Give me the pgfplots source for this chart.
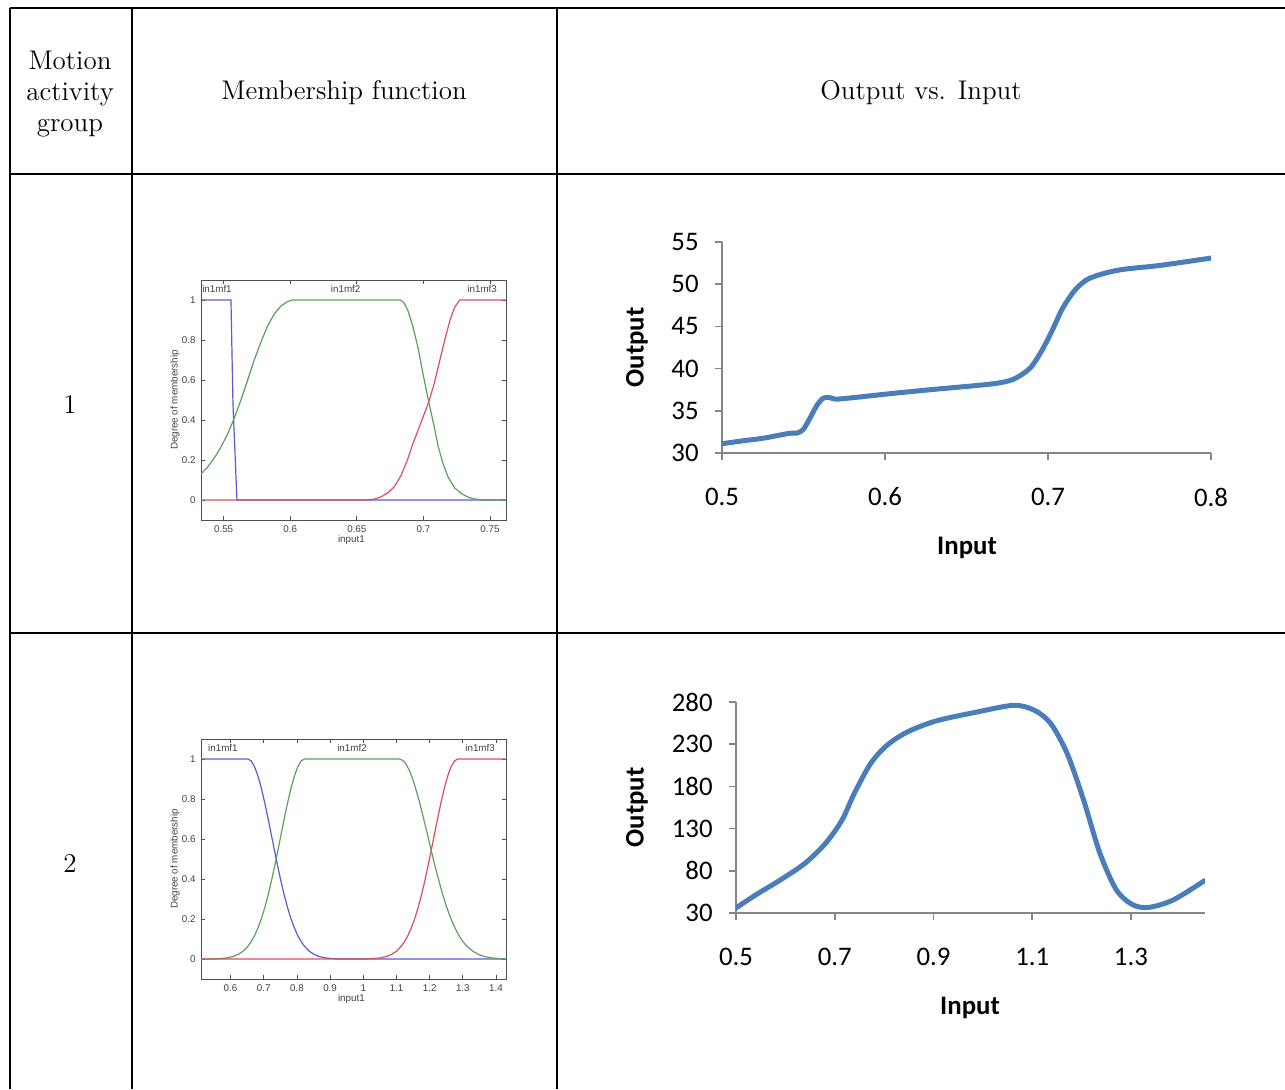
\documentclass[border=0pt]{standalone}
\usepackage{fontspec}
\usepackage{pgfplots}
\pgfplotsset{compat=1.18}
\newfontfamily\calibri{Carlito}
\newfontfamily\arialf{Liberation Sans}

\definecolor{xlblue}{HTML}{4A7EBB}
\definecolor{xlaxis}{HTML}{868686}
\definecolor{mlblue}{HTML}{5A5AD6}
\definecolor{mlgreen}{HTML}{5E9E5E}
\definecolor{mlred}{HTML}{D6505E}
\definecolor{mlframe}{HTML}{505050}

\newcommand{\cellfont}{\fontsize{13.5}{15.5}\selectfont}
\newcommand{\xlfont}{\calibri\fontsize{13.4}{16}\selectfont}
\newcommand{\xlbold}{\calibri\bfseries\fontsize{13.4}{16}\selectfont}
\newcommand{\mlfont}{\arialf\fontsize{4.9}{6}\selectfont}

\pgfplotsset{
  excel/.style={
    scale only axis,
    axis x line=bottom, axis y line=left,
    axis line style={xlaxis, line width=0.8pt, -},
    tick style={xlaxis, line width=0.8pt},
    tick align=outside, major tick length=3.5pt,
    scaled ticks=false,
    tick label style={font=\xlfont, /pgf/number format/assume math mode=true},
    xticklabel style={anchor=center, inner sep=0pt, yshift=-18.5pt},
    yticklabel style={anchor=east, inner sep=0pt, xshift=-8pt},
    xlabel={Input}, ylabel={Output},
  },
  matlab/.style={
    scale only axis,
    width=152.5pt, height=120pt,
    ymin=-0.1, ymax=1.1,
    ytick={0,0.2,0.4,0.6,0.8,1},
    axis line style={mlframe, line width=0.5pt},
    tick style={mlframe, line width=0.4pt},
    tick align=inside, major tick length=2pt,
    scaled ticks=false,
    tick label style={font=\mlfont, text=black!75, /pgf/number format/assume math mode=true},
    xticklabel style={anchor=center, inner sep=0pt, yshift=-4.5pt},
    yticklabel style={anchor=east, inner sep=0pt, xshift=-2.5pt},
    xlabel={input1}, ylabel={Degree of membership},
    every axis x label/.style={at={(axis description cs:0.493,-0.083)}, anchor=center, font=\mlfont, text=black!75},
    every axis y label/.style={at={(axis description cs:-0.085,0.5)}, rotate=90, anchor=center, font=\mlfont, text=black!75},
  },
  mf/.style={line width=0.6pt},
}

\begin{document}
\begin{tikzpicture}
\useasboundingbox (0,0) rectangle (642.5pt,-544.5pt);

% table rules
\begin{scope}[line width=1pt]
  \draw (5pt,-4pt) -- (642.5pt,-4pt);
  \draw (5pt,-87pt) -- (642.5pt,-87pt);
  \draw (5pt,-316.5pt) -- (642.5pt,-316.5pt);
  \draw (5pt,-4pt) -- (5pt,-544.5pt);
  \draw (66pt,-4pt) -- (66pt,-544.5pt);
  \draw (278.5pt,-4pt) -- (278.5pt,-544.5pt);
\end{scope}

% header cells
\node[align=center, font=\cellfont, inner sep=0pt] at (35pt,-47pt) {Motion\\activity\\group};
\node[font=\cellfont, inner sep=0pt] at (172pt,-46.5pt) {Membership function};
\node[font=\cellfont, inner sep=0pt] at (460.5pt,-46.5pt) {Output vs. Input};
\node[font=\cellfont, inner sep=0pt] at (35pt,-202.5pt) {1};
\node[font=\cellfont, inner sep=0pt] at (35pt,-432pt) {2};

% ---------- group 1: membership functions ----------
\begin{axis}[matlab, at={(100.5pt,-260pt)}, anchor=south west,
  xmin=0.533, xmax=0.762, xtick={0.55,0.6,0.65,0.7,0.75}]
\addplot[mf, mlblue] coordinates {
  (0.533,1) (0.5555,1) (0.5570,0.48) (0.5600,0) (0.762,0)};
\addplot[mf, mlgreen] coordinates {
  (0.533,0.13) (0.538,0.165) (0.543,0.21) (0.548,0.265) (0.553,0.33)
  (0.558,0.41) (0.563,0.50) (0.568,0.60) (0.573,0.70) (0.578,0.79)
  (0.583,0.87) (0.588,0.93) (0.593,0.97) (0.598,0.992) (0.6013,1)
  (0.6827,1) (0.6855,0.985) (0.6883,0.948) (0.692,0.87) (0.696,0.76)
  (0.700,0.62) (0.704,0.49) (0.708,0.37) (0.711,0.27) (0.7148,0.18)
  (0.7185,0.115) (0.7235,0.06) (0.7286,0.032) (0.7336,0.014)
  (0.7386,0.005) (0.7437,0.001) (0.7487,0) (0.762,0)};
\addplot[mf, mlred] coordinates {
  (0.533,0) (0.658,0) (0.663,0.004) (0.668,0.015) (0.673,0.035)
  (0.678,0.065) (0.683,0.12) (0.688,0.20) (0.692,0.28) (0.696,0.35)
  (0.700,0.42) (0.704,0.49) (0.708,0.58) (0.712,0.69) (0.716,0.80)
  (0.720,0.90) (0.7235,0.965) (0.7273,1) (0.762,1)};
\node[font=\mlfont, text=black!75] at (axis cs:0.5450,1.053) {in1mf1};
\node[font=\mlfont, text=black!75] at (axis cs:0.6416,1.053) {in1mf2};
\node[font=\mlfont, text=black!75] at (axis cs:0.7441,1.053) {in1mf3};
\end{axis}

% ---------- group 1: output vs. input ----------
\begin{axis}[excel, at={(361pt,-226.5pt)}, anchor=south west,
  width=244.5pt, height=105.5pt,
  xmin=0.5, xmax=0.8, ymin=30, ymax=55,
  xtick={0.5,0.6,0.7,0.8}, ytick={30,35,40,45,50,55},
  every axis x label/.style={at={(axis description cs:0.501,-0.45)}, anchor=center, font=\xlbold},
  every axis y label/.style={at={(axis description cs:-0.174,0.5)}, rotate=90, anchor=center, font=\xlbold}]
\addplot[xlblue, line width=2.5pt, line cap=round, smooth, tension=0.5] coordinates {
  (0.5000,31.10) (0.5133,31.46) (0.5258,31.77) (0.5409,32.32) (0.5459,32.36)
  (0.5497,32.76) (0.5534,33.94) (0.5584,35.70) (0.5622,36.50) (0.5660,36.57)
  (0.5697,36.38) (0.5810,36.57) (0.6061,37.09) (0.6312,37.56) (0.6563,38.00)
  (0.6688,38.27) (0.6788,38.74) (0.6889,40.04) (0.6964,42.20) (0.7027,44.57)
  (0.7089,47.13) (0.7165,49.29) (0.7240,50.55) (0.7340,51.26) (0.7466,51.77)
  (0.7692,52.24) (0.8000,53.10)};
\end{axis}

% ---------- group 2: membership functions ----------
\begin{axis}[matlab, at={(100.5pt,-489.5pt)}, anchor=south west,
  xmin=0.511, xmax=1.43, xtick={0.6,0.7,0.8,0.9,1,1.1,1.2,1.3,1.4}]
\addplot[mf, mlblue] coordinates {
  (0.511,1) (0.652,1) (0.662,0.991) (0.672,0.963) (0.682,0.918) (0.692,0.860)
  (0.702,0.789) (0.712,0.711) (0.722,0.629) (0.732,0.546) (0.742,0.465)
  (0.752,0.388) (0.762,0.318) (0.772,0.256) (0.782,0.202) (0.792,0.157)
  (0.802,0.119) (0.812,0.089) (0.822,0.065) (0.837,0.039) (0.852,0.023)
  (0.867,0.0126) (0.887,0.0054) (0.907,0.0021) (0.928,0) (1.43,0)};
\addplot[mf, mlgreen] coordinates {
  (0.511,0) (0.547,0) (0.568,0.0021) (0.588,0.0054) (0.608,0.0126)
  (0.623,0.023) (0.638,0.039) (0.653,0.065) (0.663,0.089) (0.673,0.119)
  (0.683,0.157) (0.693,0.202) (0.703,0.256) (0.713,0.318) (0.723,0.388)
  (0.733,0.465) (0.743,0.546) (0.753,0.629) (0.763,0.711) (0.773,0.789)
  (0.783,0.860) (0.793,0.918) (0.803,0.963) (0.813,0.991) (0.823,1)
  (1.109,1) (1.119,0.993) (1.129,0.974) (1.139,0.942) (1.149,0.899)
  (1.159,0.846) (1.169,0.787) (1.179,0.721) (1.189,0.653) (1.199,0.583)
  (1.209,0.513) (1.219,0.446) (1.229,0.383) (1.239,0.324) (1.249,0.271)
  (1.259,0.223) (1.269,0.182) (1.279,0.146) (1.289,0.115) (1.299,0.090)
  (1.309,0.069) (1.329,0.040) (1.349,0.021) (1.369,0.011) (1.389,0.005)
  (1.409,0.002) (1.43,0)};
\addplot[mf, mlred] coordinates {
  (0.511,0) (1.009,0) (1.030,0.0021) (1.050,0.0054) (1.070,0.0126)
  (1.085,0.023) (1.100,0.039) (1.115,0.065) (1.125,0.089) (1.135,0.119)
  (1.145,0.157) (1.155,0.202) (1.165,0.256) (1.175,0.318) (1.185,0.388)
  (1.195,0.465) (1.205,0.546) (1.215,0.629) (1.225,0.711) (1.235,0.789)
  (1.245,0.860) (1.255,0.918) (1.265,0.963) (1.275,0.991) (1.285,1)
  (1.43,1)};
\node[font=\mlfont, text=black!75] at (axis cs:0.577,1.053) {in1mf1};
\node[font=\mlfont, text=black!75] at (axis cs:0.966,1.053) {in1mf2};
\node[font=\mlfont, text=black!75] at (axis cs:1.352,1.053) {in1mf3};
\end{axis}

% ---------- group 2: output vs. input ----------
\begin{axis}[excel, at={(368pt,-456.5pt)}, anchor=south west,
  width=234.5pt, height=105.5pt,
  xmin=0.5, xmax=1.45, ymin=30, ymax=280,
  xtick={0.5,0.7,0.9,1.1,1.3}, ytick={30,80,130,180,230,280},
  every axis x label/.style={at={(axis description cs:0.499,-0.45)}, anchor=center, font=\xlbold},
  every axis y label/.style={at={(axis description cs:-0.211,0.5)}, rotate=90, anchor=center, font=\xlbold}]
\addplot[xlblue, line width=2.5pt, line cap=round, smooth, tension=0.5] coordinates {
  (0.5000,35.9) (0.5406,51.7) (0.5904,69.4) (0.6401,89.1) (0.6816,112.7)
  (0.7148,140.2) (0.7396,171.7) (0.7728,207.2) (0.8060,228.8) (0.8474,244.6)
  (0.9055,257.6) (0.9884,268.2) (1.0630,276.1) (1.1045,270.2) (1.1376,254.4)
  (1.1708,219.0) (1.2040,163.9) (1.2371,100.9) (1.2703,57.6) (1.3035,39.8)
  (1.3367,36.7) (1.3864,45.7) (1.4486,68.2)};
\end{axis}
\end{tikzpicture}
\end{document}
